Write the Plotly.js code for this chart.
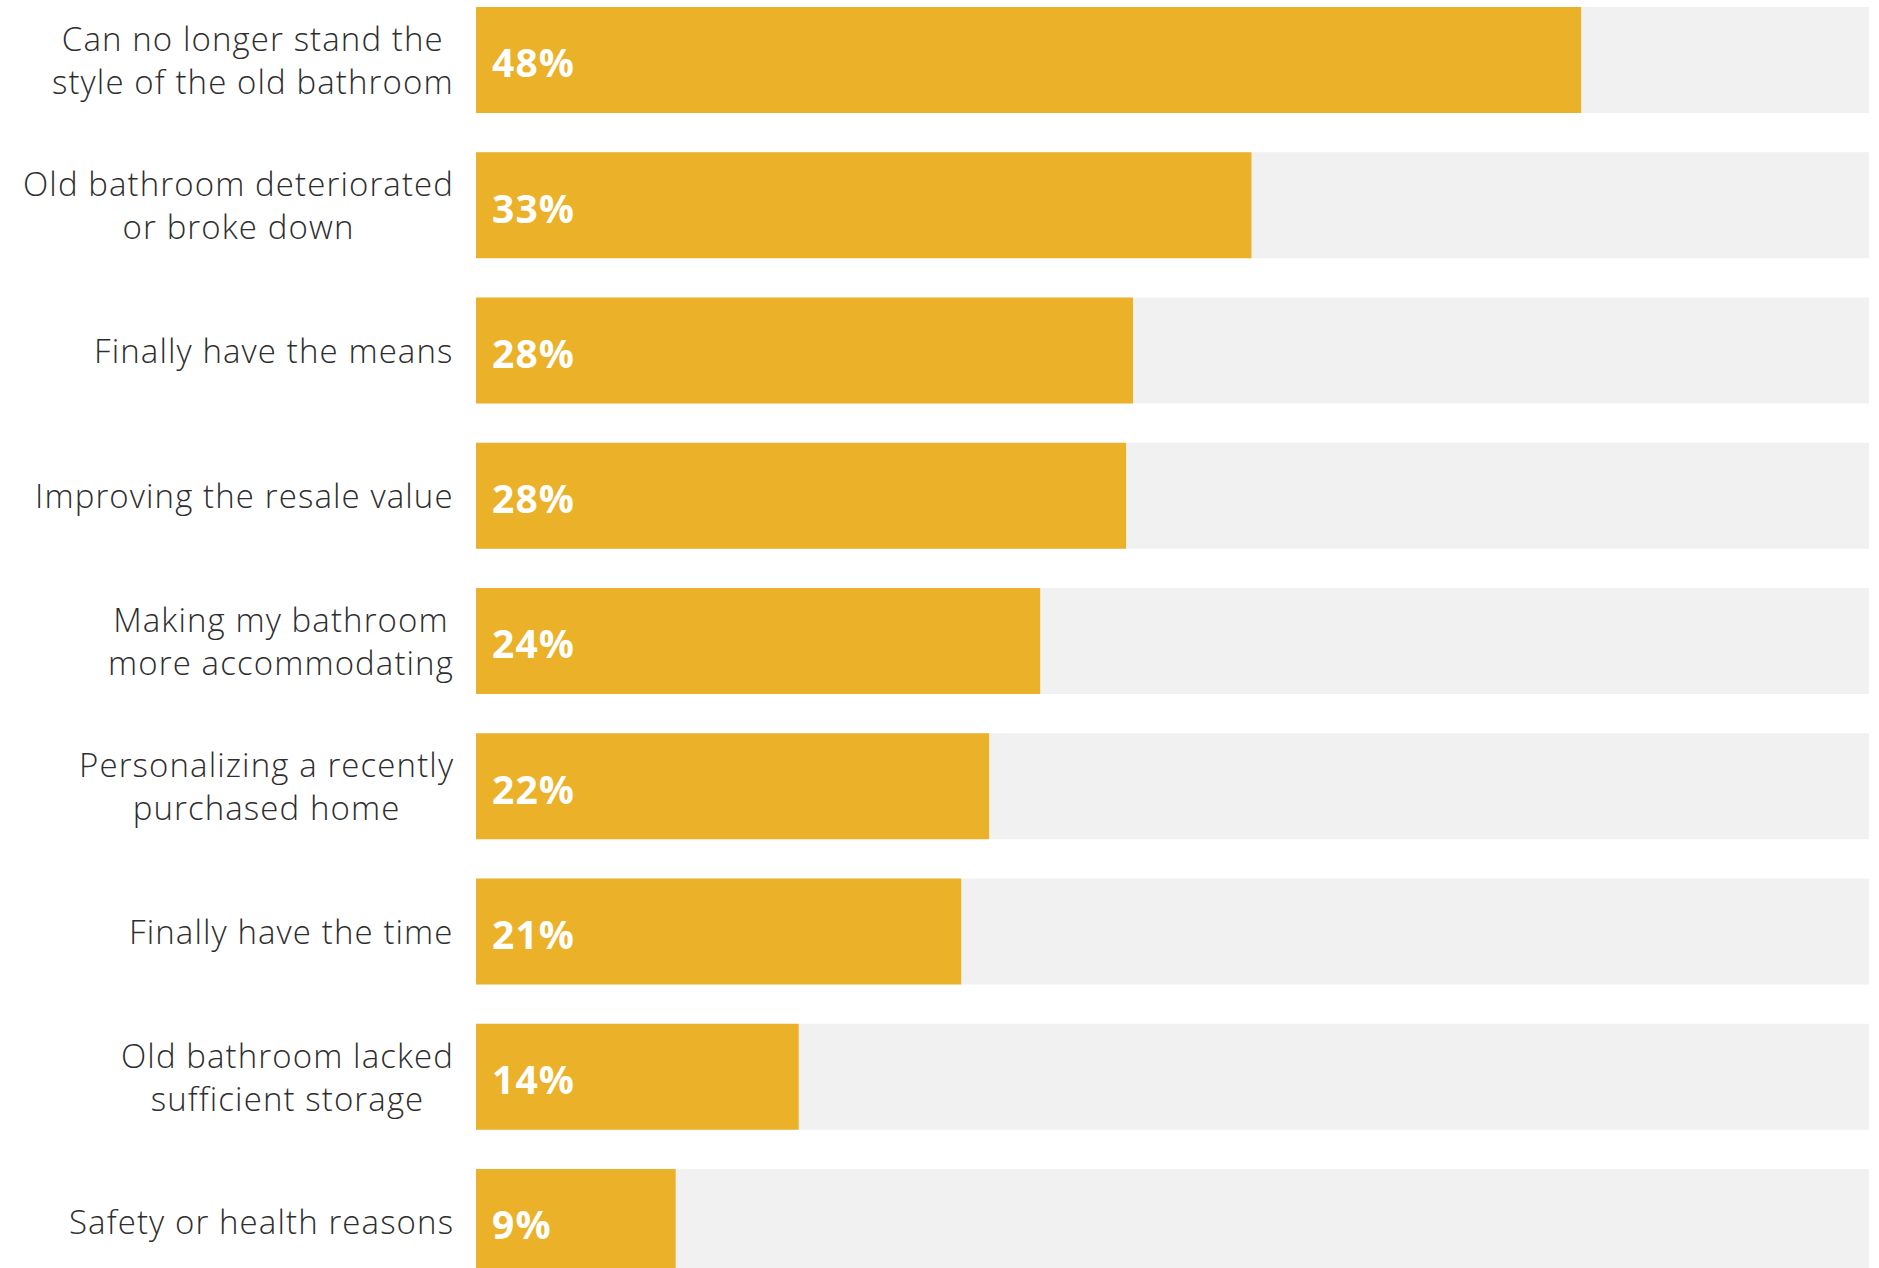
<!DOCTYPE html>
<html>
<head>
<meta charset="utf-8">
<script src="https://cdn.plot.ly/plotly-3.0.1.min.js"></script>
<style>
html,body{margin:0;padding:0;background:#fff;}
#chart{width:1879px;height:1268px;}
.annotation-text{letter-spacing:1.1px;}
</style>
</head>
<body>
<div id="chart"></div>
<script>
const categories = [
  "Can no longer stand the<br>style of the old bathroom",
  "Old bathroom deteriorated<br>or broke down",
  "Finally have the means",
  "Improving the resale value",
  "Making my bathroom<br>more accommodating",
  "Personalizing a recently<br>purchased home",
  "Finally have the time",
  "Old bathroom lacked<br>sufficient storage",
  "Safety or health reasons"
];
const values = [47.6, 33.4, 28.3, 28.0, 24.3, 22.1, 20.9, 13.9, 8.6];
const valueLabels = ["48%", "33%", "28%", "28%", "24%", "22%", "21%", "14%", "9%"];
const backgroundMax = [60, 60, 60, 60, 60, 60, 60, 60, 60];

const idx = categories.map((c, i) => i);

const traces = [
  {
    type: 'bar', orientation: 'h', x: backgroundMax, y: idx,
    marker: {color: '#F1F1F1'}, width: 0.73, hoverinfo: 'skip', showlegend: false
  },
  {
    type: 'bar', orientation: 'h', x: values, y: idx,
    marker: {color: '#EBB128'}, width: 0.73, hoverinfo: 'skip', showlegend: false
  }
];

const annotations = [];
categories.forEach((c, i) => {
  annotations.push({
    x: 0, y: i, xref: 'x', yref: 'y', text: c, showarrow: false,
    xanchor: 'right', yanchor: 'middle', align: 'center', xshift: -20,
    font: {family: '"Open Sans", Lato, sans-serif', size: 33, color: '#2E2E2E', weight: 300}
  });
  annotations.push({
    x: 0, y: i, xref: 'x', yref: 'y', text: valueLabels[i], showarrow: false,
    xanchor: 'left', yanchor: 'middle', xshift: 14, yshift: -2,
    font: {family: '"Open Sans", Lato, sans-serif', size: 39, color: '#FFFFFF', weight: 700}
  });
});

const layout = {
  width: 1879, height: 1268,
  margin: {l: 476, r: 10, t: 0, b: 0, pad: 0},
  paper_bgcolor: '#FFFFFF', plot_bgcolor: '#FFFFFF',
  barmode: 'overlay',
  xaxis: {range: [0, 60], visible: false, fixedrange: true},
  yaxis: {range: [8.317, -0.413], visible: false, fixedrange: true},
  annotations: annotations,
  showlegend: false
};

Plotly.newPlot('chart', traces, layout, {staticPlot: true, displayModeBar: false});
</script>
</body>
</html>
